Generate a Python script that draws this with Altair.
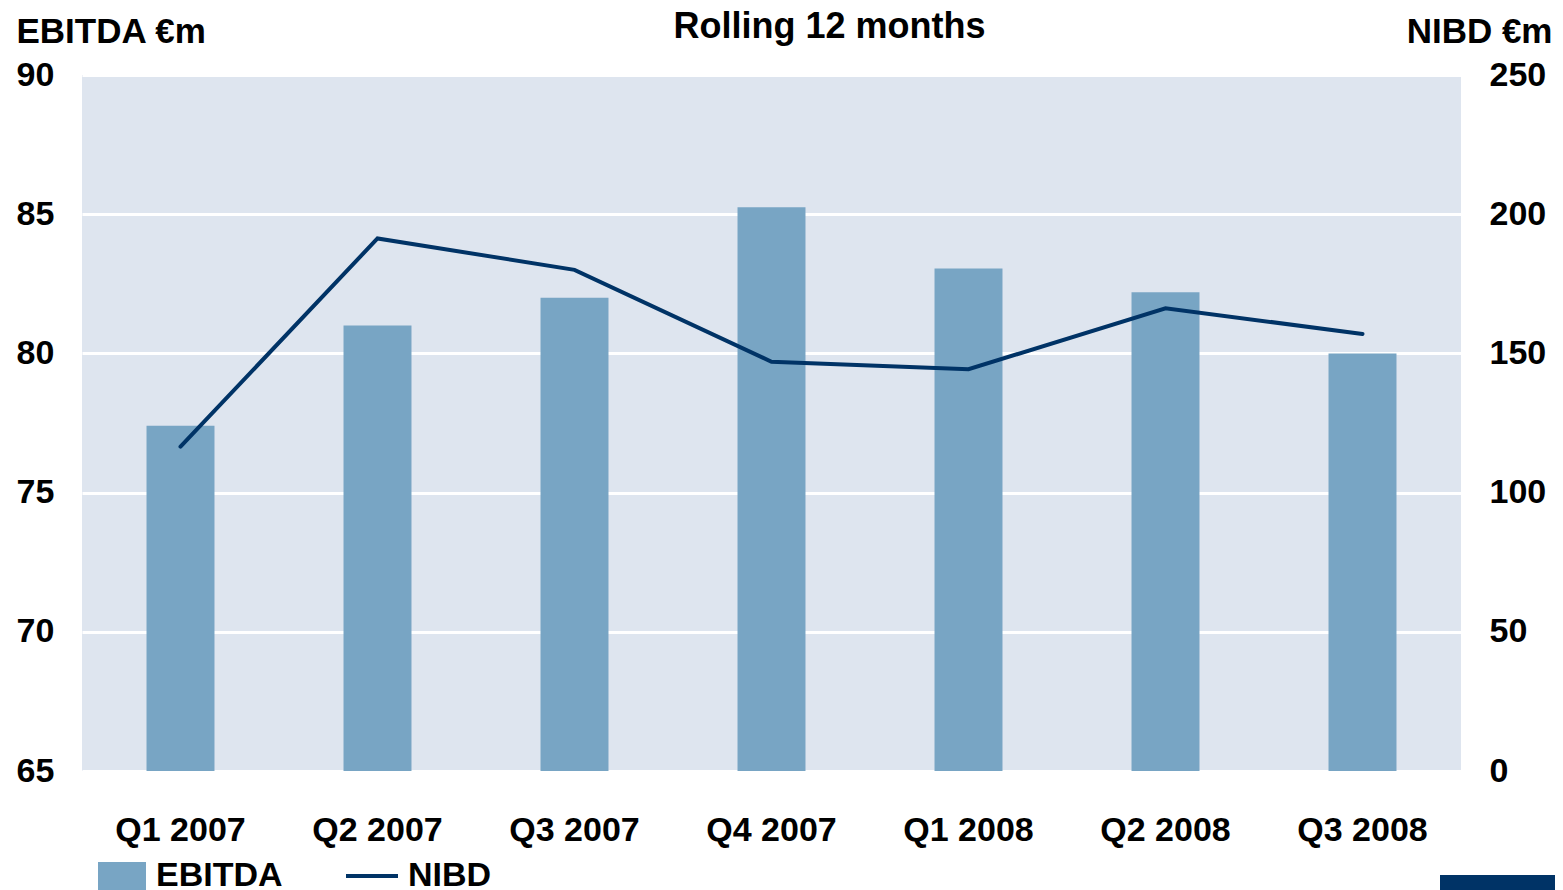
import altair as alt
import pandas as pd

quarters = ["Q1 2007", "Q2 2007", "Q3 2007", "Q4 2007", "Q1 2008", "Q2 2008", "Q3 2008"]
ebitda = [77.4, 81.0, 82.0, 85.25, 83.05, 82.2, 80.0]
nibd = [116.5, 191.3, 180.0, 147.0, 144.3, 166.2, 157.0]

df = pd.DataFrame({"quarter": quarters, "EBITDA": ebitda, "NIBD": nibd})

FONT = "Liberation Sans"
FS = 34
BAR_COLOR = "#78a5c4"
LINE_COLOR = "#003366"

x_enc = alt.X(
    "quarter:N",
    sort=quarters,
    scale=alt.Scale(paddingInner=0.655, paddingOuter=0.3275),
    axis=alt.Axis(
        title=None, labelAngle=0, domain=False, ticks=False, tickSize=0,
        labelFont=FONT, labelFontSize=FS, labelFontWeight="bold", labelColor="black",
        labelPadding=69, labelBaseline="alphabetic",
    ),
)

base = alt.Chart(df)

bars = base.mark_bar(opacity=1).transform_calculate(s1="'EBITDA'").encode(
    x=x_enc,
    y=alt.Y(
        "EBITDA:Q",
        scale=alt.Scale(domain=[65, 90], zero=False, nice=False),
        axis=alt.Axis(
            values=[65, 70, 75, 80, 85, 90], orient="left",
            title="EBITDA €m", titleAngle=0, titleAlign="left", titleBaseline="alphabetic",
            titleX=-66, titleY=-33, titleFont=FONT, titleFontSize=35, titleFontWeight="bold",
            titleColor="black",
            labelFont=FONT, labelFontSize=FS, labelFontWeight="bold", labelColor="black",
            labelAlign="left", labelBaseline="middle", labelPadding=66,
            domain=False, ticks=False, tickSize=0,
            grid=True, gridColor="white", gridWidth=3, gridOpacity=1,
        ),
    ),
    y2=alt.datum(65),
    fill=alt.Fill(
        "s1:N",
        scale=alt.Scale(domain=["EBITDA"], range=[BAR_COLOR]),
        legend=alt.Legend(
            title=None, orient="none", legendX=16, legendY=777, padding=0,
            symbolType="M-1,-0.58H1V0.58H-1Z", symbolSize=2304, symbolStrokeWidth=0,
            symbolOpacity=1,
            labelFont=FONT, labelFontSize=FS, labelFontWeight="bold", labelColor="black",
            labelOffset=10,
        ),
    ),
)

line = base.mark_line(strokeWidth=4, strokeCap="round", strokeJoin="miter").transform_calculate(
    s2="'NIBD'"
).encode(
    x=alt.X("quarter:N", sort=quarters),
    y=alt.Y(
        "NIBD:Q",
        scale=alt.Scale(domain=[0, 250], nice=False),
        axis=alt.Axis(
            values=[0, 50, 100, 150, 200, 250], orient="right",
            title="NIBD €m", titleAngle=0, titleAlign="right", titleBaseline="alphabetic",
            titleX=91, titleY=-33, titleFont=FONT, titleFontSize=35, titleFontWeight="bold",
            titleColor="black",
            labelFont=FONT, labelFontSize=FS, labelFontWeight="bold", labelColor="black",
            labelAlign="left", labelBaseline="middle", labelPadding=28,
            domain=False, ticks=False, tickSize=0, grid=False,
        ),
    ),
    stroke=alt.Stroke(
        "s2:N",
        scale=alt.Scale(domain=["NIBD"], range=[LINE_COLOR]),
        legend=alt.Legend(
            title=None, orient="none", legendX=262, legendY=773, padding=0,
            symbolType="stroke", symbolSize=2704, symbolStrokeWidth=4,
            labelFont=FONT, labelFontSize=FS, labelFontWeight="bold", labelColor="black",
            labelOffset=8,
        ),
    ),
)

corner = alt.Chart(pd.DataFrame({"k": [0]})).mark_rect(color=LINE_COLOR).encode(
    x=alt.value(1358), x2=alt.value(1480), y=alt.value(800), y2=alt.value(830)
)

chart = (
    alt.layer(bars, line, corner)
    .resolve_scale(y="independent", fill="independent", stroke="independent")
    .properties(
        width=1379,
        height=696,
        title=alt.TitleParams(
            "Rolling 12 months", anchor="middle", frame="group", dx=58, dy=60,
            font=FONT, fontSize=36, fontWeight="bold", color="black", baseline="alphabetic",
            offset=0,
        ),
        autosize=alt.AutoSizeParams(type="none"),
        padding={"left": 74, "top": 67, "right": 94, "bottom": 119},
    )
    .configure_view(fill="#dee5ef", stroke=None)
)

chart.save("out.html", embed_options={"renderer": "svg", "actions": False})
